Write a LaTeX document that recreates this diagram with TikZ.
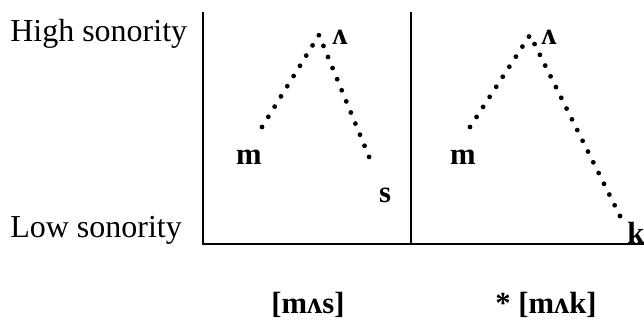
\documentclass[tikz,border=0pt]{standalone}
\usepackage{fontspec}
\setmainfont{Liberation Serif}
\usepackage{tikz}

\begin{document}
\begin{tikzpicture}[x=0.75pt,y=-0.75pt,
  scalelabel/.style={anchor=base west,inner sep=0pt,font=\fontsize{24}{28}\selectfont},
  seg/.style={inner sep=0pt,font=\fontsize{23}{27}\selectfont\bfseries},
  frameline/.style={draw=black,line width=1.8pt},
  dotline/.style={draw=black,line width=3.6pt,line cap=round,dash pattern=on 0pt off 9pt}]
\useasboundingbox (0,0) rectangle (644,321);
% axis labels
\node[scalelabel] (hi) at (10,42) {High sonority};
\node[scalelabel] (lo) at (10,238) {Low sonority};
% frame
\coordinate (tl) at (203,12);
\coordinate (bl) at (203,244);
\coordinate (tm) at (411,12);
\coordinate (bm) at (411,244);
\coordinate (br) at (644,244);
\draw[frameline] (tl) -- (bl) -- (br);
\draw[frameline] (tm) -- (bm);
% [mAs]
\node[seg] (m1) at (249,157) {m};
\node[seg] (v1) at (340,37) {ʌ};
\node[seg] (s1) at (385,195) {s};
\coordinate (a1) at (262,127);
\coordinate (p1) at (319,35);
\coordinate (b1) at (372,164);
\draw[dotline] (a1) -- (p1) -- (b1);
% *[mAk]
\node[seg] (m2) at (463,157) {m};
\node[seg] (v2) at (549,37) {ʌ};
\node[seg] (k2) at (636,233) {k};
\coordinate (a2) at (470,127);
\coordinate (p2) at (530,35);
\coordinate (b2) at (623,222);
\draw[dotline] (a2) -- (p2) -- (b2);
% forms
\node[seg] (w1) at (308,305) {[mʌs]};
\node[seg] (w2) at (546,305) {* [mʌk]};
\end{tikzpicture}
\end{document}
